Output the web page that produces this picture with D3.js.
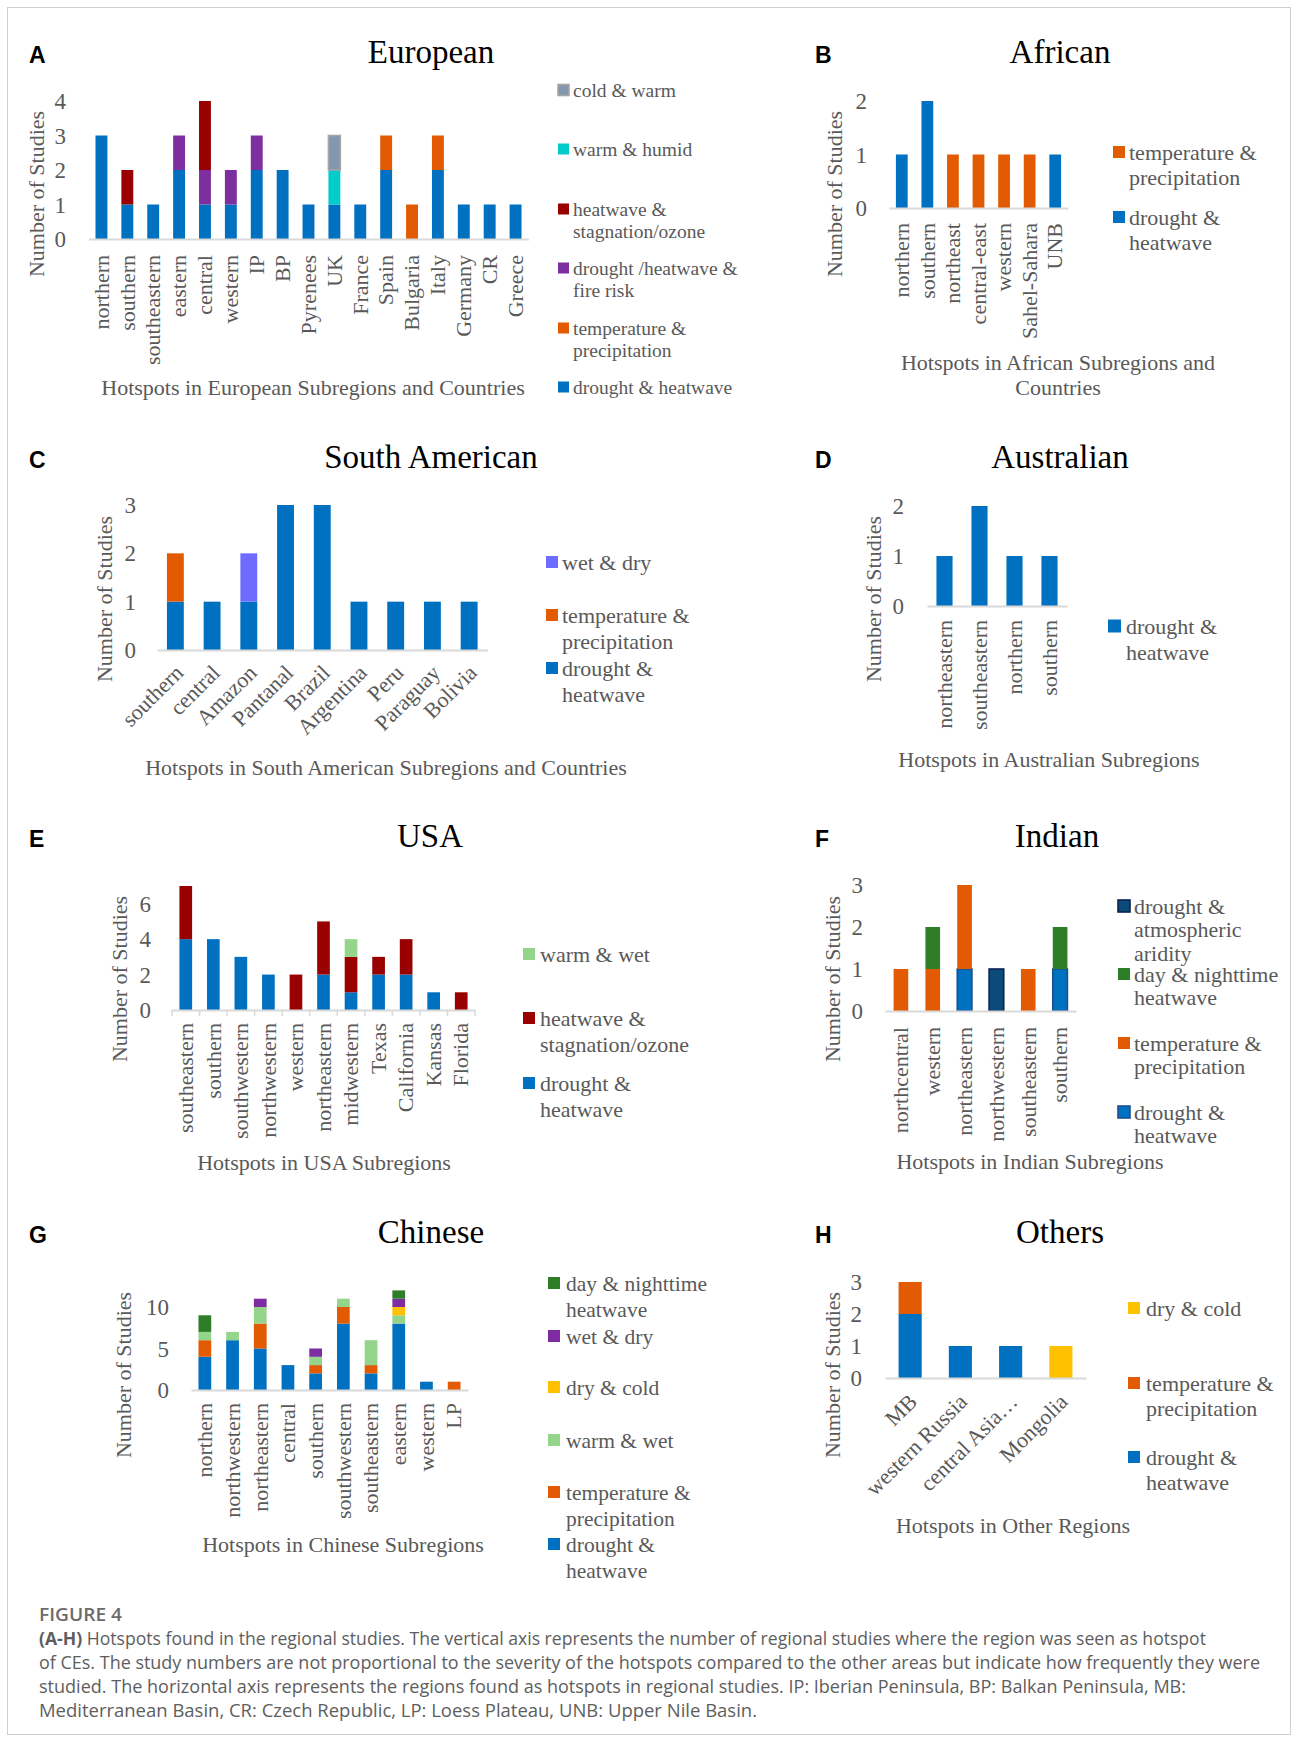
<!DOCTYPE html>
<html>
<head>
<meta charset="utf-8">
<script src="https://cdn.jsdelivr.net/npm/d3@7"></script>
<style>
  body { margin: 0; background: #fff; }
</style>
</head>
<body>
<div id="fig"></div>
<script>
// ---------- data ----------
// A European
const euCats = ['northern', 'southern', 'southeastern', 'eastern', 'central', 'western', 'IP', 'BP', 'Pyrenees', 'UK', 'France', 'Spain', 'Bulgaria', 'Italy', 'Germany', 'CR', 'Greece'];
const euDrought     = [3, 1, 1, 2, 1, 1, 2, 2, 1, 1, 1, 2, 0, 2, 1, 1, 1];
const euTempPrecip  = [0, 0, 0, 0, 0, 0, 0, 0, 0, 0, 0, 1, 1, 1, 0, 0, 0];
const euFire        = [0, 0, 0, 1, 1, 1, 1, 0, 0, 0, 0, 0, 0, 0, 0, 0, 0];
const euStagnation  = [0, 1, 0, 0, 2, 0, 0, 0, 0, 0, 0, 0, 0, 0, 0, 0, 0];
const euWarmHumid   = [0, 0, 0, 0, 0, 0, 0, 0, 0, 1, 0, 0, 0, 0, 0, 0, 0];
const euColdWarm    = [0, 0, 0, 0, 0, 0, 0, 0, 0, 1, 0, 0, 0, 0, 0, 0, 0];

// B African
const afCats = ['northern', 'southern', 'northeast', 'central-east', 'western', 'Sahel-Sahara', 'UNB'];
const afDrought    = [1, 2, 0, 0, 0, 0, 1];
const afTempPrecip = [0, 0, 1, 1, 1, 1, 0];

// C South American
const saCats = ['southern', 'central', 'Amazon', 'Pantanal', 'Brazil', 'Argentina', 'Peru', 'Paraguay', 'Bolivia'];
const saDrought    = [1, 1, 1, 3, 3, 1, 1, 1, 1];
const saTempPrecip = [1, 0, 0, 0, 0, 0, 0, 0, 0];
const saWetDry     = [0, 0, 1, 0, 0, 0, 0, 0, 0];

// D Australian
const auCats = ['northeastern', 'southeastern', 'northern', 'southern'];
const auDrought = [1, 2, 1, 1];

// E USA
const usCats = ['southeastern', 'southern', 'southwestern', 'northwestern', 'western', 'northeastern', 'midwestern', 'Texas', 'California', 'Kansas', 'Florida'];
const usDrought    = [4, 4, 3, 2, 0, 2, 1, 2, 2, 1, 0];
const usStagnation = [3, 0, 0, 0, 2, 3, 2, 1, 2, 0, 1];
const usWarmWet    = [0, 0, 0, 0, 0, 0, 1, 0, 0, 0, 0];

// F Indian
const inCats = ['northcentral', 'western', 'northeastern', 'northwestern', 'southeastern', 'southern'];
const inDrought    = [0, 0, 1, 0, 0, 1];
const inTempPrecip = [1, 1, 2, 0, 1, 0];
const inDayNight   = [0, 1, 0, 0, 0, 1];
const inAridity    = [0, 0, 0, 1, 0, 0];

// G Chinese
const cnCats = ['northern', 'northwestern', 'northeastern', 'central', 'southern', 'southwestern', 'southeastern', 'eastern', 'western', 'LP'];
const cnDrought    = [4, 6, 5, 3, 2, 8, 2, 8, 1, 0];
const cnTempPrecip = [2, 0, 3, 0, 1, 2, 1, 0, 0, 1];
const cnWarmWet    = [1, 1, 2, 0, 1, 1, 3, 1, 0, 0];
const cnDryCold    = [0, 0, 0, 0, 0, 0, 0, 1, 0, 0];
const cnWetDry     = [0, 0, 1, 0, 1, 0, 0, 1, 0, 0];
const cnDayNight   = [2, 0, 0, 0, 0, 0, 0, 1, 0, 0];

// H Others
const otCats = ['MB', 'western Russia', 'central Asia…', 'Mongolia'];
const otDrought    = [2, 1, 1, 0];
const otTempPrecip = [1, 0, 0, 0];
const otDryCold    = [0, 0, 0, 1];

// ---------- styles ----------
const colors = {
    drought: '#0070c0',
    tempPrecip: '#e25b03',
    fire: '#7e2f9f',
    stagnation: '#990000',
    warmHumid: '#00cccc',
    coldWarm: '#8497b0',
    wetDrySA: '#6e6bff',
    warmWet: '#95d48b',
    dryCold: '#ffc000',
    wetDry: '#7e2ca1',
    dayNight: '#2e7d27',
    aridity: '#0b4b7c'
};
const SERIF = '"Liberation Serif", "Times New Roman", serif';
const GREY = '#595959';

const svg = d3.select('#fig').append('svg')
    .attr('width', 1293)
    .attr('height', 1740);

svg.append('rect').attr('width', 1293).attr('height', 1740).attr('fill', '#fff');
// frame round the whole figure
svg.append('rect')
    .attr('x', 7.5).attr('y', 7.5)
    .attr('width', 1283).attr('height', 1727)
    .attr('fill', 'none').attr('stroke', '#cfcfcf');

// ---------- panels ----------
const panels = [
  {
    letter: 'A', letterPos: [29, 63], title: 'European', titlePos: [431, 63],
    cats: euCats,
    series: [
      { key: 'drought', label: ['drought & heatwave'], values: euDrought },
      { key: 'tempPrecip', label: ['temperature &', 'precipitation'], values: euTempPrecip },
      { key: 'fire', label: ['drought /heatwave &', 'fire risk'], values: euFire },
      { key: 'stagnation', label: ['heatwave &', 'stagnation/ozone'], values: euStagnation },
      { key: 'warmHumid', label: ['warm & humid'], values: euWarmHumid },
      { key: 'coldWarm', label: ['cold & warm'], values: euColdWarm }
    ],
    strokes: { coldWarm: '#a6a6a6' },
    x0: 88.5, x1: 528.5, y0: 239, yMax: 4, yTop: 101, ticks: [0, 1, 2, 3, 4], tickRight: 66,
    labelOff: 16, rot: 90,
    yTitle: [36, 194], xTitle: [[313, 395, 'Hotspots in European Subregions and Countries']],
    legend: { x: 558, tx: 573, sq: 11, font: 19.5, lh: 22, ys: [90, 149, 209, 268, 328, 387] }
  },
  {
    letter: 'B', letterPos: [815, 63], title: 'African', titlePos: [1060, 63],
    cats: afCats,
    series: [
      { key: 'drought', label: ['drought &', 'heatwave'], values: afDrought },
      { key: 'tempPrecip', label: ['temperature &', 'precipitation'], values: afTempPrecip }
    ],
    x0: 889, x1: 1068, y0: 208, yMax: 2, yTop: 101, ticks: [0, 1, 2], tickRight: 867,
    labelOff: 15, rot: 90,
    yTitle: [834, 194],
    xTitle: [[1058, 370, 'Hotspots in African Subregions and'], [1058, 395, 'Countries']],
    legend: { x: 1113, tx: 1129, sq: 12, font: 22, lh: 25.5, ys: [152, 217] }
  },
  {
    letter: 'C', letterPos: [29, 468], title: 'South American', titlePos: [431, 468],
    cats: saCats,
    series: [
      { key: 'drought', label: ['drought &', 'heatwave'], values: saDrought },
      { key: 'tempPrecip', label: ['temperature &', 'precipitation'], values: saTempPrecip },
      { key: 'wetDrySA', label: ['wet & dry'], values: saWetDry }
    ],
    x0: 157, x1: 487.5, y0: 650, yMax: 3, yTop: 505, ticks: [0, 1, 2, 3], tickRight: 136,
    labelOff: 19, labelDx: 4, rot: 45,
    yTitle: [104, 599],
    xTitle: [[386, 775, 'Hotspots in South American Subregions and Countries']],
    legend: { x: 546, tx: 562, sq: 12, font: 22, lh: 26, ys: [562, 615, 668] }
  },
  {
    letter: 'D', letterPos: [815, 468], title: 'Australian', titlePos: [1060, 468],
    cats: auCats,
    series: [
      { key: 'drought', label: ['drought &', 'heatwave'], values: auDrought }
    ],
    x0: 927, x1: 1067, y0: 606, yMax: 2, yTop: 506, ticks: [0, 1, 2], tickRight: 904,
    labelOff: 14, rot: 90,
    yTitle: [873, 599],
    xTitle: [[1049, 767, 'Hotspots in Australian Subregions']],
    legend: { x: 1108, tx: 1126, sq: 13, font: 22, lh: 26, ys: [626] }
  },
  {
    letter: 'E', letterPos: [29, 847], title: 'USA', titlePos: [430, 847],
    cats: usCats,
    series: [
      { key: 'drought', label: ['drought &', 'heatwave'], values: usDrought },
      { key: 'stagnation', label: ['heatwave &', 'stagnation/ozone'], values: usStagnation },
      { key: 'warmWet', label: ['warm & wet'], values: usWarmWet }
    ],
    x0: 172, x1: 475, y0: 1010, yMax: 7, yTop: 886, ticks: [0, 2, 4, 6], tickRight: 151,
    labelOff: 13, rot: 90, boundaryTicks: true,
    yTitle: [119, 979],
    xTitle: [[324, 1170, 'Hotspots in USA Subregions']],
    legend: { x: 523, tx: 540, sq: 12, font: 22, lh: 26, ys: [954, 1018, 1083] }
  },
  {
    letter: 'F', letterPos: [815, 847], title: 'Indian', titlePos: [1057, 847],
    cats: inCats,
    series: [
      { key: 'drought', label: ['drought &', 'heatwave'], values: inDrought },
      { key: 'tempPrecip', label: ['temperature &', 'precipitation'], values: inTempPrecip },
      { key: 'dayNight', label: ['day & nighttime', 'heatwave'], values: inDayNight },
      { key: 'aridity', label: ['drought &', 'atmospheric', 'aridity'], values: inAridity }
    ],
    strokes: { drought: '#1d4f8f', aridity: '#0a2352' },
    x0: 885, x1: 1076, y0: 1011, yMax: 3, yTop: 885, ticks: [0, 1, 2, 3], tickRight: 863,
    labelOff: 16, rot: 90,
    yTitle: [832, 979],
    xTitle: [[1030, 1169, 'Hotspots in Indian Subregions']],
    legend: { x: 1118, tx: 1134, sq: 12, font: 22, lh: 23.5, ys: [906, 974, 1043, 1112] }
  },
  {
    letter: 'G', letterPos: [29, 1243], title: 'Chinese', titlePos: [431, 1243],
    cats: cnCats,
    series: [
      { key: 'drought', label: ['drought &', 'heatwave'], values: cnDrought },
      { key: 'tempPrecip', label: ['temperature &', 'precipitation'], values: cnTempPrecip },
      { key: 'warmWet', label: ['warm & wet'], values: cnWarmWet },
      { key: 'dryCold', label: ['dry & cold'], values: cnDryCold },
      { key: 'wetDry', label: ['wet & dry'], values: cnWetDry },
      { key: 'dayNight', label: ['day & nighttime', 'heatwave'], values: cnDayNight }
    ],
    x0: 191, x1: 468, y0: 1390, yMax: 10, yTop: 1307, ticks: [0, 5, 10], tickRight: 169,
    labelOff: 13, rot: 90,
    yTitle: [123, 1375],
    xTitle: [[343, 1552, 'Hotspots in Chinese Subregions']],
    legend: { x: 548, tx: 566, sq: 12, font: 21.5, lh: 26, ys: [1283, 1336, 1387, 1440, 1492, 1544] }
  },
  {
    letter: 'H', letterPos: [815, 1243], title: 'Others', titlePos: [1060, 1243],
    cats: otCats,
    series: [
      { key: 'drought', label: ['drought &', 'heatwave'], values: otDrought },
      { key: 'tempPrecip', label: ['temperature &', 'precipitation'], values: otTempPrecip },
      { key: 'dryCold', label: ['dry & cold'], values: otDryCold }
    ],
    x0: 885, x1: 1086, y0: 1378, yMax: 3, yTop: 1282, ticks: [0, 1, 2, 3], tickRight: 862,
    labelOff: 20, labelDx: 3, rot: 45,
    yTitle: [832, 1375],
    xTitle: [[1013, 1533, 'Hotspots in Other Regions']],
    legend: { x: 1128, tx: 1146, sq: 12, font: 22, lh: 25, ys: [1308, 1383, 1457] }
  }
];

panels.forEach(drawPanel);

function drawPanel(p) {
    const g = svg.append('g').attr('class', 'panel').attr('font-family', SERIF);

    const x = d3.scaleBand()
        .domain(p.cats)
        .range([p.x0, p.x1])
        .paddingInner(0.54)
        .paddingOuter(0.27);

    const y = d3.scaleLinear()
        .domain([0, p.yMax])
        .range([p.y0, p.yTop]);

    // rows for the stack
    const rows = p.cats.map((c, i) => {
        const r = { cat: c };
        p.series.forEach(s => { r[s.key] = s.values[i]; });
        return r;
    });
    const layers = d3.stack().keys(p.series.map(s => s.key))(rows);
    const strokes = p.strokes || {};

    layers.forEach(layer => {
        const key = layer.key;
        g.append('g').selectAll('rect')
            .data(layer.filter(d => d[1] > d[0]))
            .join('rect')
            .attr('x', d => x(d.data.cat))
            .attr('width', x.bandwidth())
            .attr('y', d => y(d[1]))
            .attr('height', d => y(d[0]) - y(d[1]))
            .attr('fill', colors[key])
            .attr('stroke', strokes[key] || 'none')
            .attr('stroke-width', strokes[key] ? 1.6 : 0);
    });

    // y axis (labels only)
    const yAxis = g.append('g')
        .attr('transform', `translate(${p.tickRight},0)`)
        .call(d3.axisLeft(y).tickValues(p.ticks).tickSize(0).tickPadding(0).tickFormat(d3.format('d')));
    yAxis.select('.domain').remove();
    yAxis.attr('font-family', SERIF).attr('font-size', 23);
    yAxis.selectAll('text').attr('fill', GREY).attr('dy', '0.33em');

    // x axis
    const xAxis = g.append('g')
        .attr('transform', `translate(0,${p.y0})`)
        .call(d3.axisBottom(x).tickSize(0).tickSizeOuter(0));
    xAxis.attr('font-family', SERIF).attr('font-size', 22);
    xAxis.select('.domain').attr('stroke', '#d9d9d9').attr('stroke-width', 1.8);
    xAxis.selectAll('text')
        .attr('fill', GREY)
        .attr('x', 0).attr('y', 0)
        .attr('dy', '0.33em')
        .attr('text-anchor', 'end')
        .attr('transform', p.rot === 45
            ? `translate(${p.labelDx || 0},${p.labelOff}) rotate(-45)`
            : `translate(0,${p.labelOff}) rotate(-90)`);

    if (p.boundaryTicks) {
        const gap = x.step() - x.bandwidth();
        const edges = p.cats.map(c => x(c) - gap / 2).concat([x.range()[1]]);
        g.append('g').selectAll('line')
            .data(edges)
            .join('line')
            .attr('x1', d => d).attr('x2', d => d)
            .attr('y1', p.y0).attr('y2', p.y0 + 6)
            .attr('stroke', '#d9d9d9').attr('stroke-width', 1.5);
    }

    // axis titles
    g.append('text')
        .attr('transform', `translate(${p.yTitle[0]},${p.yTitle[1]}) rotate(-90)`)
        .attr('text-anchor', 'middle')
        .attr('dy', '0.35em')
        .attr('font-size', 22)
        .attr('fill', GREY)
        .text('Number of Studies');

    g.selectAll('.xtitle')
        .data(p.xTitle)
        .join('text')
        .attr('class', 'xtitle')
        .attr('x', d => d[0]).attr('y', d => d[1])
        .attr('text-anchor', 'middle')
        .attr('font-size', 22)
        .attr('fill', GREY)
        .text(d => d[2]);

    // chart title and panel letter
    g.append('text')
        .attr('x', p.titlePos[0]).attr('y', p.titlePos[1])
        .attr('text-anchor', 'middle')
        .attr('font-size', 33)
        .attr('fill', '#000')
        .text(p.title);

    g.append('text')
        .attr('x', p.letterPos[0]).attr('y', p.letterPos[1])
        .attr('font-family', '"Liberation Sans", Arial, sans-serif')
        .attr('font-weight', 'bold')
        .attr('font-size', 23)
        .attr('fill', '#000')
        .text(p.letter);

    // legend, top to bottom = reversed stack order
    const L = p.legend;
    const items = p.series.slice().reverse();
    const leg = g.append('g').attr('class', 'legend');
    items.forEach((s, i) => {
        const ly = L.ys[i];
        leg.append('rect')
            .attr('x', L.x).attr('y', ly - L.sq / 2)
            .attr('width', L.sq).attr('height', L.sq)
            .attr('fill', colors[s.key])
            .attr('stroke', strokes[s.key] || 'none')
            .attr('stroke-width', strokes[s.key] ? 1.6 : 0);
        s.label.forEach((line, j) => {
            leg.append('text')
                .attr('x', L.tx).attr('y', ly + j * L.lh)
                .attr('dy', '0.35em')
                .attr('font-size', L.font)
                .attr('fill', GREY)
                .text(line);
        });
    });
}

// ---------- caption ----------
const capLines = [
    'of CEs. The study numbers are not proportional to the severity of the hotspots compared to the other areas but indicate how frequently they were',
    'studied. The horizontal axis represents the regions found as hotspots in regional studies. IP: Iberian Peninsula, BP: Balkan Peninsula, MB:',
    'Mediterranean Basin, CR: Czech Republic, LP: Loess Plateau, UNB: Upper Nile Basin.'
];
const capWidths = [1221, 1147, 718];

const cap = svg.append('g')
    .attr('font-family', '"Open Sans", "Noto Sans", sans-serif')
    .attr('font-size', 18)
    .attr('fill', '#5e5e5e');

cap.append('text')
    .attr('x', 39).attr('y', 1621)
    .attr('font-weight', 600)
    .attr('fill', '#6b6b6b')
    .attr('textLength', 83)
    .attr('lengthAdjust', 'spacingAndGlyphs')
    .text('FIGURE 4');

const first = cap.append('text')
    .attr('x', 39).attr('y', 1645)
    .attr('textLength', 1167)
    .attr('lengthAdjust', 'spacingAndGlyphs');
first.append('tspan').attr('font-weight', 'bold').text('(A-H)');
first.append('tspan').text(' Hotspots found in the regional studies. The vertical axis represents the number of regional studies where the region was seen as hotspot');

cap.selectAll('.capline')
    .data(capLines)
    .join('text')
    .attr('class', 'capline')
    .attr('x', 39)
    .attr('y', (d, i) => 1669 + i * 24)
    .attr('textLength', (d, i) => capWidths[i])
    .attr('lengthAdjust', 'spacingAndGlyphs')
    .text(d => d);
</script>
</body>
</html>
